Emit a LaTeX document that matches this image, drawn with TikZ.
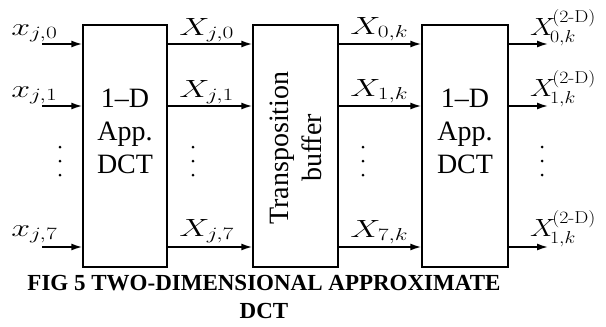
\documentclass[tikz,border=0pt]{standalone}
\usepackage{amsmath}
\usepackage[no-math]{fontspec}
\setmainfont{Liberation Serif}
\DeclareMathSizes{24}{24}{18.5}{14}
\usetikzlibrary{arrows.meta}
\newcommand{\twod}{\mathrm{(2\mathchar"702D D)}}
\newcommand{\outX}[1]{X^{\kern-3pt\twod}_{\kern-3pt #1}}
\begin{document}
\begin{tikzpicture}[x=1pt,y=-1pt,
  blk/.style={draw, line width=1.4pt, minimum height=242pt, inner sep=0pt},
  arr/.style={line width=1.6pt, -{Latex[length=11pt,width=7pt]}},
  lbl/.style={anchor=base west, inner sep=0pt, xscale=1.36, transform shape, font=\fontsize{24}{28}\selectfont},
  olbl/.style={lbl, xscale=1.15/1.36},
  btxt/.style={align=center, font=\fontsize{28}{33}\selectfont, inner sep=0pt},
  dotc/.style={circle, fill, inner sep=0pt, minimum size=3pt},
  captxt/.style={align=center, font=\fontsize{23}{29}\selectfont\bfseries, inner sep=0pt}]
\useasboundingbox (0,0) rectangle (606,327);
% blocks
\node[blk, minimum width=84pt] (b1) at (125,146) {};
\node[blk, minimum width=85pt] (b2) at (295.5,146) {};
\node[blk, minimum width=86pt] (b3) at (465,146) {};
\node[btxt] (t1) at (125,131) {1--D\\App.\\DCT};
\node[btxt, rotate=90] (t2) at (296,148) {Transposition\\buffer};
\node[btxt] (t3) at (465,131) {1--D\\App.\\DCT};
% row coordinates
\coordinate (r0) at (0,44);
\coordinate (r1) at (0,106);
\coordinate (r7) at (0,247);
\coordinate (i0) at (42,44);
\coordinate (i1) at (42,106);
\coordinate (i7) at (42,247);
\coordinate (o0) at (548,44);
\coordinate (o1) at (548,106);
\coordinate (o7) at (548,247);
% arrows
\foreach \r in {0,1,7}{
  \draw[arr] (i\r) -- (b1.west |- r\r);
  \draw[arr] (b1.east |- r\r) -- (b2.west |- r\r);
  \draw[arr] (b2.east |- r\r) -- (b3.west |- r\r);
  \draw[arr] (b3.east |- r\r) -- (o\r);
}
% labels
\node[lbl] (lx0) at (11,35) {$x_{j,0}$};
\node[lbl] (lx1) at (11,97) {$x_{j,1}$};
\node[lbl] (lx7) at (11,236) {$x_{j,7}$};
\node[lbl] (lX0) at (179,35) {$X_{j,0}$};
\node[lbl] (lX1) at (179,97) {$X_{j,1}$};
\node[lbl] (lX7) at (179,236) {$X_{j,7}$};
\node[lbl] (lk0) at (350,34) {$X_{0,k}$};
\node[lbl] (lk1) at (350,96) {$X_{1,k}$};
\node[lbl] (lk7) at (350,237) {$X_{7,k}$};
\node[olbl] (ld0) at (530,35) {$\outX{0,k}$};
\node[olbl] (ld1) at (530,96) {$\outX{1,k}$};
\node[olbl] (ld7) at (530,236) {$\outX{1,k}$};
% vertical dots
\foreach \x [count=\n] in {60,193,363,542}{
  \node[dotc] (da\n) at (\x,147) {};
  \node[dotc] (db\n) at (\x,161) {};
  \node[dotc] (dc\n) at (\x,175) {};
}
% caption
\node[captxt] (c1) at (264,283) {FIG 5 TWO-DIMENSIONAL APPROXIMATE};
\node[captxt] (c2) at (264,311) {DCT};
\end{tikzpicture}
\end{document}
